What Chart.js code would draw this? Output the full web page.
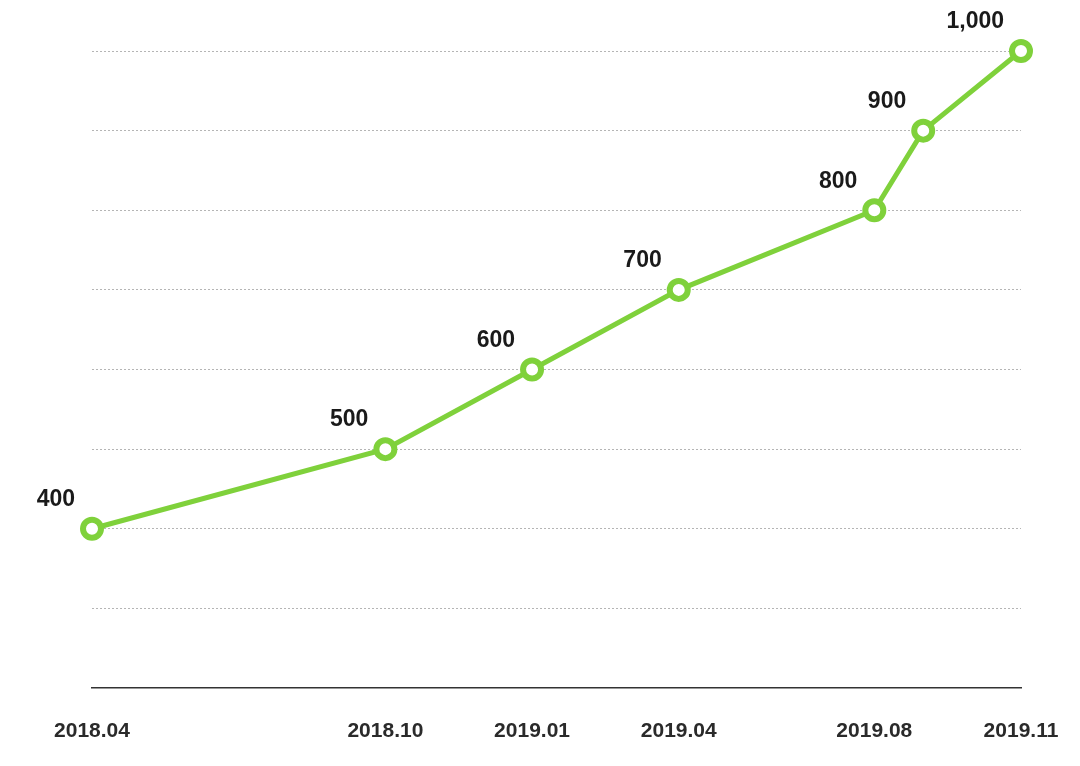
<!DOCTYPE html>
<html>
<head>
<meta charset="utf-8">
<script src="https://cdn.jsdelivr.net/npm/chart.js@4/dist/chart.umd.min.js"></script>
<style>
  html, body { margin: 0; padding: 0; background: #fff; }
  #wrap { width: 1080px; height: 766px; }
</style>
</head>
<body>
<div id="wrap"><canvas id="grafico"></canvas></div>
<script>
// datos: meses desde 2018.04 y cantidad
var fechas = ['2018.04', '2018.10', '2019.01', '2019.04', '2019.08', '2019.09', '2019.11'];
var meses = [0, 6, 9, 12, 16, 17, 19];
var valores = [400, 500, 600, 700, 800, 900, 1000];
var etiquetasX = ['2018.04', '2018.10', '2019.01', '2019.04', '2019.08', '2019.11'];
var mesesX = [0, 6, 9, 12, 16, 19];

var verde = '#7fd13b';
var fuente = '"Liberation Sans", Arial, sans-serif';

//Plugin para dibujar los valores sobre cada punto
var etiquetasValor = {
    id: 'etiquetasValor',
    afterDatasetsDraw: function(chart) {
        var ctx = chart.ctx;
        var meta = chart.getDatasetMeta(0);
        ctx.save();
        ctx.font = 'bold 23px ' + fuente;
        ctx.fillStyle = '#1a1a1a';
        ctx.textAlign = 'right';
        ctx.textBaseline = 'middle';
        meta.data.forEach(function(p, i) {
            ctx.fillText(valores[i].toLocaleString('en-US'), p.x - 17, p.y - 29);
        });
        ctx.restore();
    }
};

var puntos = [];
for (i = 0; i < meses.length; i++) {
    puntos.push({ x: meses[i], y: valores[i] });
}

new Chart(document.getElementById('grafico'), {
    type: 'line',
    data: {
        datasets: [{
            label: 'valores',
            data: puntos,
            borderColor: verde,
            borderWidth: 5,
            pointRadius: 9,
            pointBorderWidth: 6,
            pointBackgroundColor: '#fff',
            pointBorderColor: verde,
            pointHoverRadius: 9,
            tension: 0,
            clip: false
        }]
    },
    options: {
        responsive: true,
        maintainAspectRatio: false,
        animation: false,
        layout: { padding: { left: 92, right: 59, top: 51, bottom: 0 } },
        plugins: {
            legend: { display: false },
            tooltip: { enabled: false }
        },
        scales: {
            x: {
                type: 'linear',
                min: 0,
                max: 19,
                afterBuildTicks: function(scale) {
                    scale.ticks = mesesX.map(function(v) { return { value: v }; });
                },
                afterFit: function(scale) {
                    scale.height = 78;
                    scale.paddingLeft = 0;
                    scale.paddingRight = 0;
                },
                ticks: {
                    autoSkip: false,
                    maxRotation: 0,
                    padding: 31,
                    color: '#2a2a2a',
                    font: { family: fuente, size: 21, weight: 'bold' },
                    callback: function(v) {
                        var k = mesesX.indexOf(v);
                        return k >= 0 ? etiquetasX[k] : '';
                    }
                },
                grid: { display: false, drawTicks: false },
                border: { display: true, color: '#333', width: 1.5 }
            },
            y: {
                min: 200,
                max: 1000,
                ticks: { display: false, stepSize: 100 },
                grid: {
                    drawTicks: false,
                    lineWidth: 1,
                    color: function(c) {
                        return c.tick && c.tick.value === 200 ? 'rgba(0,0,0,0)' : '#b5b5b5';
                    }
                },
                border: { display: false, dash: [2, 2] }
            }
        }
    },
    plugins: [etiquetasValor]
});
</script>
</body>
</html>
